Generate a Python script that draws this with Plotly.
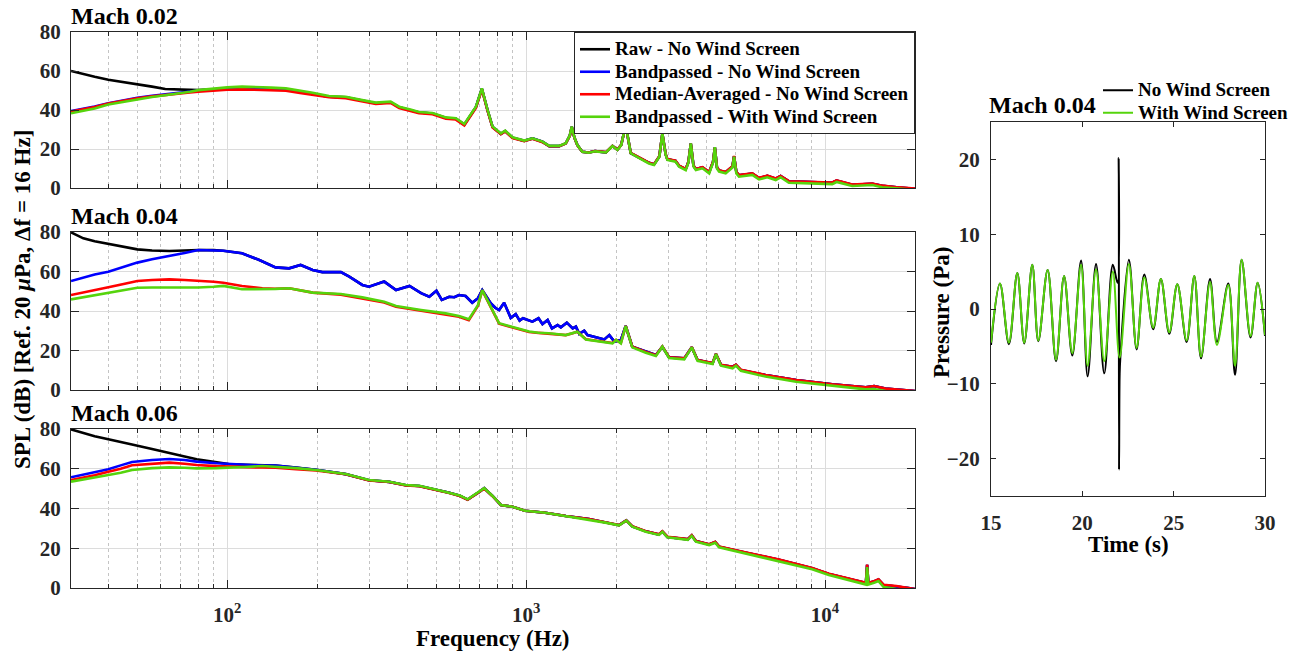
import math
import plotly.graph_objects as go

# ---------------- data: Mach 0.02 spectra ----------------
M02_F = [30, 33, 36, 40, 45, 50, 56, 62, 69, 75, 80, 90, 100, 112, 125, 140, 157, 175, 193, 219,
         249, 280, 314, 352, 376, 410, 438, 486, 539, 582,
         621, 679, 711, 743, 772, 823, 851, 900, 985, 1050,
         1134, 1195, 1290, 1357, 1400, 1421, 1450, 1484, 1541, 1620,
         1700, 1850, 1945, 2020, 2080, 2153, 2238, 2448, 2576, 2678,
         2790, 2856, 2930, 2969, 3162, 3250, 3420, 3490, 3556, 3630,
         3697, 3890, 4096, 4220, 4279, 4350, 4420, 4652, 4900, 4963,
         5050, 5154, 5712, 6012, 6412, 6840, 7100, 7570, 10570, 10930,
         12330, 14390, 15530, 17660, 20000]
M02_RAW = [60.0, 58.3, 57.0, 55.5, 54.4, 53.3, 52.0, 50.8, 50.5, 50.4, 50.2, 50.6, 51.0, 51.2, 51.0, 50.6, 50.5, 49.3, 48.1, 46.8,
           46.5, 44.9, 43.5, 44.0, 41.4, 39.9, 38.7, 38.2, 35.9, 35.5,
           32.5, 41.4, 50.9, 39.8, 31.3, 27.8, 29.2, 25.8, 24.2, 25.4,
           23.7, 21.5, 21.5, 22.9, 26.9, 31.4, 25.9, 22.0, 18.6, 18.2,
           18.9, 18.3, 21.6, 19.6, 22.1, 32.2, 17.9, 14.7, 12.9, 12.1,
           16.2, 27.9, 17.2, 14.7, 13.9, 11.3, 9.7, 13.3, 22.8, 11.4,
           9.7, 10.6, 8.1, 13.4, 20.8, 10.5, 9.0, 8.1, 11.0, 16.3,
           8.2, 6.5, 7.4, 5.1, 6.2, 4.8, 6.1, 3.4, 2.7, 3.8,
           1.7, 2.2, 1.1, 0.2, -0.4]
M02_BP = [39.5, 40.6, 41.8, 43.5, 45.0, 46.3, 47.3, 48.1, 48.9, 49.5, 50.0, 50.6, 51.0, 51.2, 51.0, 50.6, 50.5, 49.3, 48.1, 46.8,
          46.5, 44.9, 43.5, 44.0, 41.4, 39.9, 38.7, 38.2, 35.9, 35.5,
          32.5, 41.4, 50.9, 39.8, 31.3, 27.8, 29.2, 25.8, 24.2, 25.4,
          23.7, 21.5, 21.5, 22.9, 26.9, 31.4, 25.9, 22.0, 18.6, 18.2,
          18.9, 18.3, 21.6, 19.6, 22.1, 32.2, 17.9, 14.7, 12.9, 12.1,
          16.2, 27.9, 17.2, 14.7, 13.9, 11.3, 9.7, 13.3, 22.8, 11.4,
          9.7, 10.6, 8.1, 13.4, 20.8, 10.5, 9.0, 8.1, 11.0, 16.3,
          8.2, 6.5, 7.4, 5.1, 6.2, 4.8, 6.1, 3.4, 2.7, 3.8,
          1.7, 2.2, 1.1, 0.2, -0.4]
M02_MED = [39.2, 40.3, 41.5, 43.3, 44.8, 46.0, 47.0, 47.8, 48.5, 49.0, 49.4, 50.0, 50.4, 50.6, 50.4, 50.0, 49.9, 48.8, 47.7, 46.6,
           46.1, 44.5, 43.1, 43.6, 41.0, 39.5, 38.3, 37.8, 35.5, 35.1,
           32.1, 41.0, 50.6, 39.6, 31.0, 27.6, 29.0, 25.6, 24.0, 25.2,
           23.5, 21.4, 21.4, 22.8, 26.8, 31.2, 25.8, 21.9, 18.6, 18.2,
           18.9, 18.4, 21.6, 19.7, 22.1, 32.0, 18.0, 14.8, 13.0, 12.2,
           16.3, 27.8, 17.3, 14.8, 14.0, 11.4, 9.8, 13.4, 22.7, 11.5,
           9.8, 10.7, 8.2, 13.5, 20.7, 10.6, 9.1, 8.2, 11.1, 16.4,
           8.3, 6.6, 7.5, 5.2, 6.3, 4.9, 6.2, 3.5, 2.8, 3.9,
           1.8, 2.3, 1.2, 0.3, -0.3]
M02_BPWS = [38.3, 39.5, 40.8, 42.8, 44.3, 45.6, 46.7, 47.6, 48.5, 49.4, 50.2, 51.0, 51.6, 52.0, 51.9, 51.5, 51.1, 50.0, 48.8, 47.2,
            46.8, 45.2, 43.8, 44.3, 41.7, 40.2, 39.0, 38.5, 36.2, 35.8,
            32.8, 41.7, 51.1, 40.0, 31.5, 28.0, 29.4, 26.0, 24.3, 25.5,
            23.8, 21.6, 21.6, 23.0, 27.0, 31.5, 26.0, 22.0, 18.6, 18.1,
            18.8, 18.2, 21.5, 19.5, 22.0, 32.3, 17.8, 14.4, 12.6, 11.8,
            16.0, 28.0, 17.0, 14.4, 13.5, 10.9, 9.2, 13.0, 22.9, 11.0,
            9.2, 10.1, 7.5, 13.0, 20.9, 10.0, 8.4, 7.5, 10.5, 16.1,
            7.5, 5.8, 6.7, 4.4, 5.5, 4.1, 5.5, 2.7, 2.0, 3.1,
            1.0, 1.5, 0.4, -0.3, -1.0]

# ---------------- data: Mach 0.04 spectra ----------------
M04_F_NWS = [30, 33, 36, 40, 45, 50, 56, 64, 72, 80,
             90, 97, 112, 128, 145, 161, 176, 193, 208, 240,
             256, 283, 298, 335, 367, 407, 445, 474, 501, 522,
             553, 575, 596, 627, 660, 690, 713, 761, 790, 812,
             844, 888, 923, 951, 976, 1049, 1100, 1134, 1180, 1220,
             1274, 1306, 1368, 1431, 1467, 1505, 1564, 1604, 1711, 1826,
             1898, 1973, 2075, 2153, 2265, 2514, 2717, 2856, 3008, 3380,
             3583, 3745, 4205, 4315, 4485, 4906, 5033, 5228, 6318, 8000,
             10570, 13670, 14590, 15930, 17330, 18500, 20000]
M04_RAW = [79.8, 76.8, 75.3, 73.9, 72.4, 71.2, 70.6, 70.4, 70.6, 70.9,
           70.8, 70.5, 69.2, 65.8, 62.1, 61.6, 63.3, 60.8, 59.7, 59.7,
           57.4, 53.2, 52.3, 54.9, 50.6, 52.7, 49.0, 47.2, 50.3, 45.6,
           47.2, 47.0, 48.1, 47.6, 44.2, 46.5, 50.6, 43.9, 41.5, 40.5,
           44.2, 36.5, 38.4, 35.1, 36.3, 34.6, 36.3, 33.4, 35.4, 31.2,
           32.9, 31.7, 34.1, 31.2, 32.1, 28.4, 30.0, 27.8, 26.7, 25.6,
           27.8, 24.5, 25.3, 32.4, 21.9, 19.4, 17.7, 21.9, 16.5, 16.0,
           21.6, 15.2, 13.5, 18.2, 12.7, 11.8, 12.7, 10.1, 7.6, 5.1,
           2.9, 1.4, 2.0, 0.7, 0.2, 0.0, -0.5]
M04_BP = [55.2, 57.0, 58.5, 59.9, 62.3, 64.5, 66.2, 67.8, 69.4, 70.9,
          70.8, 70.5, 69.2, 65.8, 62.1, 61.6, 63.3, 60.8, 59.7, 59.7,
          57.4, 53.2, 52.3, 54.9, 50.6, 52.7, 49.0, 47.2, 50.3, 45.6,
          47.2, 47.0, 48.1, 47.6, 44.2, 46.5, 50.6, 43.9, 41.5, 40.5,
          44.2, 36.5, 38.4, 35.1, 36.3, 34.6, 36.3, 33.4, 35.4, 31.2,
          32.9, 31.7, 34.1, 31.2, 32.1, 28.4, 30.0, 27.8, 26.7, 25.6,
          27.8, 24.5, 25.3, 32.4, 21.9, 19.4, 17.7, 21.9, 16.5, 16.0,
          21.6, 15.2, 13.5, 18.2, 12.7, 11.8, 12.7, 10.1, 7.6, 5.1,
          2.9, 1.4, 2.0, 0.7, 0.2, 0.0, -0.5]
M04_F = [30, 33, 36, 40, 45, 50, 56, 64, 72, 80,
         90, 97, 112, 131, 145, 161, 193, 240, 283, 335,
         367, 445, 538, 596, 643, 690, 713, 761, 812, 876,
         959, 1023, 1100, 1190, 1357, 1431, 1484, 1584, 1754, 1945,
         2000, 2075, 2153, 2265, 2514, 2717, 2856, 3008, 3380, 3583,
         3745, 4205, 4315, 4485, 4906, 5033, 5228, 6318, 8000, 10570,
         13670, 14590, 15930, 17330, 18500, 20000]
M04_MED = [48.1, 49.3, 50.4, 52.0, 53.7, 55.2, 55.7, 56.0, 55.7, 55.4,
           54.8, 54.3, 52.7, 51.5, 51.3, 51.5, 49.3, 48.3, 46.5, 44.3,
           42.1, 40.1, 38.4, 37.1, 35.4, 42.7, 50.4, 41.9, 33.6, 32.2,
           30.5, 29.4, 28.9, 28.6, 27.8, 28.7, 29.5, 25.7, 24.7, 23.8,
           25.4, 23.8, 32.4, 21.9, 19.3, 17.6, 22.0, 16.6, 16.0, 21.7,
           15.2, 13.6, 18.3, 12.8, 11.7, 12.8, 10.3, 7.6, 5.1, 2.9,
           1.4, 2.0, 0.7, 0.2, 0.0, -0.5]
M04_BPWS = [45.9, 47.0, 47.9, 48.9, 50.3, 51.8, 51.9, 51.9, 51.9, 51.9,
            52.3, 52.7, 51.0, 51.0, 51.2, 51.5, 49.3, 48.6, 46.9, 44.7,
            42.5, 40.5, 38.8, 37.5, 35.8, 43.0, 50.6, 42.2, 33.8, 32.4,
            30.7, 29.6, 29.0, 28.7, 27.8, 28.7, 29.5, 25.6, 24.5, 23.6,
            25.3, 23.6, 32.4, 21.6, 18.9, 17.2, 21.9, 16.2, 15.5, 21.6,
            14.8, 13.2, 18.2, 12.3, 11.0, 12.3, 9.7, 6.8, 4.2, 2.0,
            0.3, 0.5, -0.5, -1.0, -1.5, -2.0]

# ---------------- data: Mach 0.06 spectra ----------------
M06_F = [30, 33, 36, 40, 44, 48, 56, 64, 72, 79,
         92, 101, 115, 131, 145, 170, 198, 249, 298, 348,
         396, 439, 498, 553, 600, 637, 697, 724, 772, 823,
         900, 991, 1158, 1357, 1621, 1840, 2046, 2163, 2265, 2514,
         2781, 2856, 2969, 3474, 3582, 3697, 4096, 4291, 4420, 5397,
         7009, 9055, 10300, 11700, 13280, 13700, 13830, 13960, 14590, 15100,
         15710, 17330, 19000, 20000]
M06_RAW = [79.8, 78.0, 76.4, 74.8, 73.3, 72.2, 69.9, 68.1, 66.2, 64.8,
           63.1, 62.4, 62.0, 61.6, 61.6, 60.6, 59.5, 57.3, 54.2, 53.4,
           51.7, 51.3, 49.5, 47.9, 46.4, 44.5, 48.4, 50.2, 46.3, 41.8,
           40.9, 38.9, 37.9, 36.2, 34.7, 33.0, 31.6, 34.0, 31.0, 28.5,
           26.9, 28.4, 25.7, 24.5, 26.4, 23.6, 21.9, 23.1, 20.8, 17.9,
           14.2, 10.0, 7.1, 5.0, 2.8, 2.5, 11.6, 2.5, 3.3, 4.3,
           1.5, 0.9, 0.0, -0.5]
M06_BP = [55.7, 57.0, 58.2, 59.7, 61.7, 63.4, 64.4, 64.9, 64.4, 63.6,
          62.8, 62.4, 62.0, 61.6, 61.6, 60.6, 59.5, 57.3, 54.2, 53.4,
          51.7, 51.3, 49.5, 47.9, 46.4, 44.5, 48.4, 50.2, 46.3, 41.8,
          40.9, 38.9, 37.9, 36.2, 34.7, 33.0, 31.6, 34.0, 31.0, 28.5,
          26.9, 28.4, 25.7, 24.5, 26.4, 23.6, 21.9, 23.1, 20.8, 17.9,
          14.2, 10.0, 7.1, 5.0, 2.8, 2.5, 11.6, 2.5, 3.3, 4.3,
          1.5, 0.9, 0.0, -0.5]
M06_MED = [54.3, 55.5, 56.7, 58.5, 60.0, 61.8, 62.6, 63.1, 62.5, 61.9,
           61.3, 61.0, 60.8, 60.6, 60.5, 59.8, 59.1, 57.2, 54.1, 53.3,
           51.6, 51.2, 49.4, 47.8, 46.3, 44.4, 48.3, 50.1, 46.2, 41.8,
           40.9, 38.9, 37.9, 36.2, 34.7, 33.0, 31.7, 34.0, 31.1, 28.6,
           27.0, 28.5, 25.8, 24.6, 26.5, 23.7, 22.0, 23.2, 20.9, 18.0,
           14.3, 10.1, 7.2, 5.1, 2.9, 2.6, 11.8, 2.6, 3.4, 4.4,
           1.6, 1.0, 0.0, -0.5]
M06_BPWS = [53.5, 54.5, 55.6, 56.9, 58.0, 59.4, 60.3, 60.7, 60.5, 60.2,
            60.3, 60.4, 60.9, 61.4, 61.0, 60.3, 59.4, 57.4, 54.3, 53.5,
            51.8, 51.4, 49.6, 48.0, 46.5, 44.6, 48.5, 50.2, 46.3, 41.8,
            40.9, 38.9, 37.9, 36.2, 34.6, 32.9, 31.5, 33.9, 30.9, 28.3,
            26.7, 28.3, 25.5, 24.2, 26.2, 23.3, 21.6, 22.8, 20.5, 17.5,
            13.6, 9.4, 6.5, 4.4, 2.0, 1.7, 10.5, 1.7, 2.6, 3.5,
            0.5, -0.5, -1.0, -1.5]

# ---------------- data: Mach 0.04 pressure time series ----------------
T_NWS = [15.00, 15.49, 15.98, 16.44, 16.82, 17.26, 17.59, 18.10, 18.56, 19.00,
         19.45, 19.93, 20.29, 20.75, 21.20, 21.67, 21.93, 21.99, 22.01, 22.04,
         22.08, 22.55, 22.97, 23.39, 23.88, 24.30, 24.76, 25.20, 25.71, 26.13,
         26.50, 26.99, 27.37, 27.99, 28.36, 28.72, 29.21, 29.60, 30.00]
P_NWS = [-4.8, 3.4, -4.7, 4.8, -4.6, 5.9, -4.3, 5.2, -7.0, 4.4,
         -6.2, 6.5, -9.0, 6.0, -8.6, 5.9, 3.5, 20.2, -21.5, -9.0,
         -6.5, 6.6, -5.4, 4.6, -2.7, 4.0, -3.3, 3.3, -4.4, 4.4,
         -6.6, 4.0, -4.4, 3.4, -8.8, 6.6, -3.8, 3.5, -3.6]
T_WS = [15.00, 15.49, 15.98, 16.44, 16.82, 17.26, 17.59, 18.10, 18.56, 19.00,
        19.45, 19.93, 20.29, 20.75, 21.20, 21.67, 22.04, 22.55, 22.97, 23.39,
        23.88, 24.30, 24.76, 25.20, 25.71, 26.13, 26.50, 26.99, 27.37, 27.99,
        28.36, 28.72, 29.21, 29.60, 30.00]
P_WS = [-4.5, 3.4, -4.5, 4.8, -4.5, 5.9, -4.2, 5.2, -6.8, 4.4,
        -5.9, 5.9, -7.6, 5.3, -7.0, 5.0, -6.5, 6.0, -5.2, 4.2,
        -2.5, 4.0, -3.1, 3.3, -4.2, 4.4, -6.4, 3.6, -4.8, 3.2,
        -7.6, 6.6, -3.6, 3.5, -3.5]

SERIES_NAMES = ["Raw - No Wind Screen", "Bandpassed - No Wind Screen",
                "Median-Averaged - No Wind Screen", "Bandpassed - With Wind Screen"]
TS_NAMES = ["No Wind Screen", "With Wind Screen"]
PANEL_TITLES = ["Mach 0.02", "Mach 0.04", "Mach 0.06"]
YTICKS = [0, 20, 40, 60, 80]
XTICKS = [100, 1000, 10000]
XTICK_TEXT = ["10<sup>2</sup>", "10<sup>3</sup>", "10<sup>4</sup>"]
TTICKS = [15, 20, 25, 30]
PTICKS = [-20, -10, 0, 10, 20]

# ---------------- style ----------------
W, H = 1296, 656
FONT = "Liberation Serif"
AX = "#262626"
COLORS = ["#000000", "#0000ff", "#ff0000", "#55d40c"]


def px(x):
    return x / W


def py(y):
    return 1 - y / H


def leg_name(s):
    # legend text drawn at 19px while the legend row pitch follows a smaller base font
    return f'<span style="font-size:19px">{s}</span>'


fig = go.Figure()

panels = [
    (M02_F, M02_F, M02_RAW, M02_BP, M02_MED, M02_BPWS),
    (M04_F_NWS, M04_F, M04_RAW, M04_BP, M04_MED, M04_BPWS),
    (M06_F, M06_F, M06_RAW, M06_BP, M06_MED, M06_BPWS),
]
for i, (fa, fb, raw, bp, med, bpws) in enumerate(panels):
    xa = "x" if i == 0 else f"x{i+1}"
    ya = "y" if i == 0 else f"y{i+1}"
    data = [(fa, raw), (fa, bp), (fb, med), (fb, bpws)]
    for k, (ff, vv) in enumerate(data):
        fig.add_trace(go.Scatter(
            x=ff, y=vv, mode="lines", name=leg_name(SERIES_NAMES[k]),
            line=dict(color=COLORS[k], width=2.6),
            xaxis=xa, yaxis=ya, showlegend=(i == 0), legend="legend",
            hoverinfo="skip"))

fig.add_trace(go.Scatter(x=T_NWS, y=P_NWS, mode="lines", name=leg_name(TS_NAMES[0]),
                         line=dict(color="#000000", width=2, shape="spline", smoothing=1.0),
                         xaxis="x4", yaxis="y4", legend="legend2", showlegend=True))
fig.add_trace(go.Scatter(x=T_WS, y=P_WS, mode="lines", name=leg_name(TS_NAMES[1]),
                         line=dict(color=COLORS[3], width=2, shape="spline", smoothing=1.0),
                         xaxis="x4", yaxis="y4", legend="legend2", showlegend=True))

tickfont = dict(family=FONT, size=21, color=AX, weight="bold")

left_dom_x = [px(71), px(915)]
panel_y = [(32, 188), (232, 390), (429, 588)]

layout = dict(
    width=W, height=H, margin=dict(l=0, r=0, t=0, b=0, autoexpand=False),
    paper_bgcolor="white", plot_bgcolor="white",
    font=dict(family=FONT, size=21, color="black", weight="bold"),
    showlegend=True,
)

for i, (top, bot) in enumerate(panel_y):
    xname = "xaxis" if i == 0 else f"xaxis{i+1}"
    yname = "yaxis" if i == 0 else f"yaxis{i+1}"
    ya = "y" if i == 0 else f"y{i+1}"
    xa = "x" if i == 0 else f"x{i+1}"
    layout[xname] = dict(
        type="log", range=[math.log10(30), math.log10(20000)], domain=left_dom_x,
        anchor=ya, showline=True, mirror="ticks", linecolor=AX, linewidth=1,
        ticks="inside", ticklen=8, tickcolor=AX, tickwidth=1,
        tickmode="array", tickvals=XTICKS, ticktext=XTICK_TEXT,
        showticklabels=(i == 2), tickfont=tickfont, ticklabelstandoff=8,
        showgrid=True, gridcolor="#dcdcdc", gridwidth=1, zeroline=False,
        minor=dict(dtick="D1", ticks="inside", ticklen=4, tickcolor=AX,
                   showgrid=True, gridcolor="#c4c4c4", griddash="dot", gridwidth=1),
    )
    layout[yname] = dict(
        range=[0, 80], domain=[py(bot), py(top)], anchor=xa,
        showline=True, mirror="ticks", linecolor=AX, linewidth=1,
        ticks="inside", ticklen=8, tickcolor=AX, tickvals=YTICKS,
        tickfont=tickfont, ticklabelstandoff=5,
        showgrid=True, gridcolor="#dcdcdc", gridwidth=1, zeroline=False,
    )

layout["xaxis4"] = dict(
    range=[15, 30], domain=[px(991), px(1265)], anchor="y4",
    showline=True, mirror="ticks", linecolor=AX, linewidth=1,
    ticks="inside", ticklen=5, tickcolor=AX, tickvals=TTICKS,
    tickfont=tickfont, ticklabelstandoff=8, showgrid=False, zeroline=False,
)
layout["yaxis4"] = dict(
    range=[-25, 25], domain=[py(496), py(122)], anchor="x4",
    showline=True, mirror="ticks", linecolor=AX, linewidth=1,
    ticks="inside", ticklen=5, tickcolor=AX, tickvals=PTICKS,
    tickfont=tickfont, ticklabelstandoff=6, showgrid=False, zeroline=False,
)

layout["legend"] = dict(
    x=px(915), xanchor="right", y=py(32), yanchor="top",
    bgcolor="white", bordercolor="#262626", borderwidth=1,
    font=dict(family=FONT, size=15, color="black", weight="bold"),
    itemwidth=30, tracegroupgap=0, traceorder="normal",
)
layout["legend2"] = dict(
    x=px(1098), xanchor="left", y=py(74), yanchor="top",
    bgcolor="rgba(0,0,0,0)", borderwidth=0,
    font=dict(family=FONT, size=15, color="black", weight="bold"),
    itemwidth=30, tracegroupgap=0,
)

ann = []
title_font = dict(family=FONT, size=24, color="black", weight="bold")
for (top, bot), t in zip(panel_y, PANEL_TITLES):
    ann.append(dict(text=t, x=px(69), y=py(top - 1), xref="paper", yref="paper",
                    xanchor="left", yanchor="bottom", showarrow=False, font=title_font))
ann.append(dict(text="Mach 0.04", x=px(987), y=py(120), xref="paper", yref="paper",
                xanchor="left", yanchor="bottom", showarrow=False, font=title_font))
lab_font = dict(family=FONT, size=23, color="black", weight="bold")
ann.append(dict(text="Frequency (Hz)", x=px(493), y=py(638), xref="paper", yref="paper",
                xanchor="center", yanchor="middle", showarrow=False, font=lab_font))
ann.append(dict(text="SPL (dB) [Ref. 20 <i>μ</i>Pa, Δf = 16 Hz]", x=px(22), y=py(300),
                xref="paper", yref="paper", xanchor="center", yanchor="middle",
                textangle=-90, showarrow=False, font=lab_font))
ann.append(dict(text="Time (s)", x=px(1128), y=py(544), xref="paper", yref="paper",
                xanchor="center", yanchor="middle", showarrow=False, font=lab_font))
ann.append(dict(text="Pressure (Pa)", x=px(941), y=py(312), xref="paper", yref="paper",
                xanchor="center", yanchor="middle", textangle=-90, showarrow=False, font=lab_font))
layout["annotations"] = ann

fig.update_layout(**layout)
fig.write_html("out.html",
               post_script="document.body.style.margin='0px';document.body.style.padding='0px';")
